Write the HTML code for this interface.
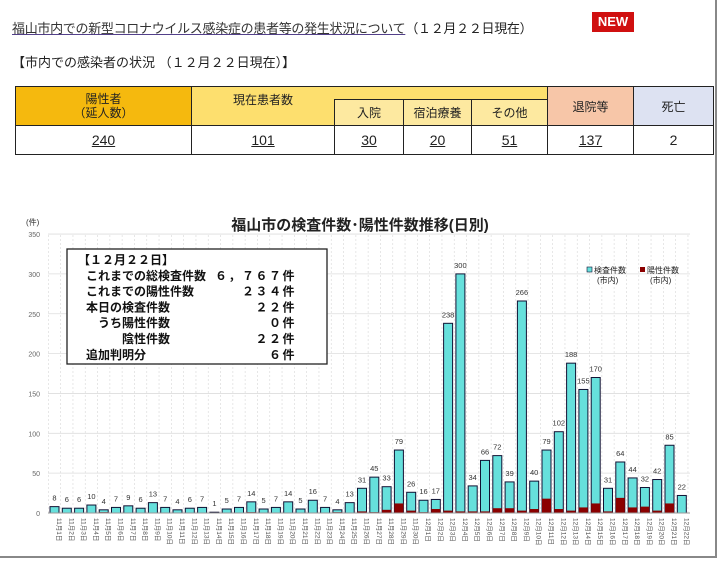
<!DOCTYPE html>
<html><head><meta charset="utf-8">
<style>
body{margin:0;width:720px;height:561px;background:#fff;font-family:"Liberation Sans","Noto Sans CJK JP",sans-serif;position:relative;overflow:hidden;color:#222}
.t1{position:absolute;left:12px;top:18px;font-size:13px;white-space:nowrap;letter-spacing:-0.3px}
.t1 a{color:#333;text-decoration:underline;text-decoration-color:#53408a}
.new{position:absolute;left:592px;top:12px;width:42px;height:20px;background:#d01010;color:#fff;font-weight:bold;font-size:13px;text-align:center;line-height:20px}
.t2{position:absolute;left:12px;top:52px;font-size:13px}
table{position:absolute;left:15px;top:86px;border-collapse:collapse;font-size:12px}
td{border:1.5px solid #222;text-align:center;padding:0}
u{text-decoration-thickness:1px}
.frame{position:absolute;left:0;top:0;width:717px;height:558px;border-right:2px solid #888;border-bottom:2px solid #888;box-sizing:border-box}
</style></head><body>
<div class="frame"></div>
<div class="t1"><a>福山市内での新型コロナウイルス感染症の患者等の発生状況について</a>（１２月２２日現在）</div>
<div class="new">NEW</div>
<div class="t2">【市内での感染者の状況 （１２月２２日現在）】</div>
<table>
<tr style="height:13px">
<td rowspan="2" style="width:175px;background:#f5b90e;line-height:14px">陽性者<br>（延人数）</td>
<td colspan="4" style="background:#fddf6e;border-bottom:none"></td>
<td rowspan="2" style="width:85px;background:#f7c6a8">退院等</td>
<td rowspan="2" style="width:79px;background:#dde2f2">死亡</td>
</tr>
<tr style="height:26px">
<td style="width:142px;background:#fddf6e;border-top:none;vertical-align:top;line-height:14px"><div style="position:relative;top:-7px">現在患者数</div></td>
<td style="width:68px;background:#fde9a0">入院</td>
<td style="width:67px;background:#fde9a0">宿泊療養</td>
<td style="width:75px;background:#fde9a0">その他</td>
</tr>
<tr style="height:29px;font-size:14px">
<td><u>240</u></td><td><u>101</u></td><td><u>30</u></td><td><u>20</u></td><td><u>51</u></td><td><u>137</u></td><td>2</td>
</tr>
</table>
<svg id="c" width="720" height="561" style="position:absolute;left:0;top:0" font-family="Liberation Sans, Noto Sans CJK JP, sans-serif"></svg>
<script>
var T=[8,6,6,10,4,7,9,6,13,7,4,6,7,1,5,7,14,5,7,14,5,16,7,4,13,31,45,33,79,26,16,17,238,300,34,66,72,39,266,40,79,102,188,155,170,31,64,44,32,42,85,22];
var P=[0,0,0,0,1,0,0,0,0,0,0,0,0,0,0,0,1,0,0,0,0,0,0,1,0,2,1,4,12,3,1,5,3,2,2,2,6,6,3,5,18,5,3,7,12,2,19,7,8,3,12,0];
var s='',y0=513,k=0.797,x0=54.5,dx=12.3;
s+='<text x="26" y="225" font-size="8" fill="#333">(件)</text>';
s+='<text x="360" y="230" font-size="15" font-weight="bold" text-anchor="middle" fill="#222">福山市の検査件数･陽性件数推移(日別)</text>';
for(var v=0;v<=350;v+=50){var y=y0-v*k;s+='<line x1="48" x2="690" y1="'+y+'" y2="'+y+'" stroke="#ddd" stroke-width="0.8"/><text x="40" y="'+(y+3)+'" font-size="7" fill="#666" text-anchor="end">'+v+'</text>';}
for(var i=0;i<=52;i++){var x=x0-dx/2+i*dx;s+='<line x1="'+x+'" x2="'+x+'" y1="235" y2="513" stroke="#ddd" stroke-width="0.7" stroke-dasharray="2,2"/>';}
for(var i=0;i<52;i++){var cx=x0+i*dx,h=T[i]*k,ph=P[i]*k;
s+='<rect x="'+(cx-4.5)+'" y="'+(y0-h)+'" width="9" height="'+h+'" fill="#66e0dc" stroke="#113" stroke-width="1"/>';
if(ph>0)s+='<rect x="'+(cx-4.5)+'" y="'+(y0-ph)+'" width="9" height="'+ph+'" fill="#8b0000"/>';
s+='<text x="'+cx+'" y="'+(y0-h-6)+'" font-size="7.5" text-anchor="middle" fill="#333">'+T[i]+'</text>';
var lab=(i<30?'11月'+(i+1):'12月'+(i-29))+'日';
s+='<text transform="translate('+(cx+2.5)+',518) rotate(90)" font-size="6.5" fill="#555">'+lab+'</text>';}
s+='<line x1="48" x2="690" y1="513" y2="513" stroke="#999"/>';
s+='<rect x="67" y="249" width="260" height="115" fill="#fff" stroke="#222" stroke-width="1.3"/>';
var L=[['【１２月２２日】',''],['これまでの総検査件数','６，７６７件'],['これまでの陽性件数','２３４件'],['本日の検査件数','２２件'],['　うち陽性件数','０件'],['　　　陰性件数','２２件'],['追加判明分','６件']];
for(var j=0;j<L.length;j++){var yy=264+j*15.8;s+='<text x="'+(j==0?78:86)+'" y="'+yy+'" font-size="12" font-weight="bold" fill="#111">'+L[j][0]+'</text><text x="296" y="'+yy+'" font-size="12" font-weight="bold" text-anchor="end" fill="#111" letter-spacing="1.5">'+L[j][1]+'</text>';}
s+='<rect x="587" y="267" width="5" height="5" fill="#66e0dc" stroke="#113" stroke-width="0.6"/><text x="594" y="273" font-size="8" fill="#222">検査件数</text><text x="597" y="283" font-size="8" fill="#222">(市内)</text>';
s+='<rect x="640" y="267" width="5" height="5" fill="#8b0000"/><text x="647" y="273" font-size="8" fill="#222">陽性件数</text><text x="650" y="283" font-size="8" fill="#222">(市内)</text>';
document.getElementById('c').innerHTML=s;
</script>
</body></html>
